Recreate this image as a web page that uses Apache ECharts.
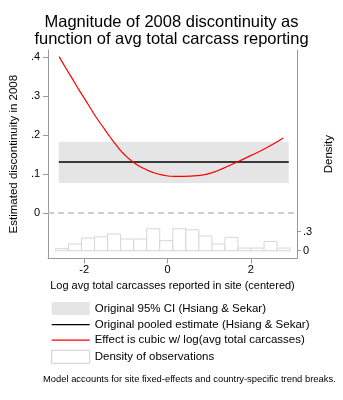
<!DOCTYPE html>
<html><head><meta charset="utf-8">
<script src="https://cdn.jsdelivr.net/npm/echarts@6/dist/echarts.min.js"></script>
<style>html,body{margin:0;padding:0;background:#fff}#c{width:343px;height:400px}</style>
</head><body><div id="c"></div>
<script>
// ---- data ----
const chartTitle = 'Magnitude of 2008 discontinuity as\nfunction of avg total carcass reporting';
const xName = 'Log avg total carcasses reported in site (centered)';
const yName = 'Estimated discontinuity in 2008';
const y2Name = 'Density';
const note = 'Model accounts for site fixed-effects and country-specific trend breaks.';
const seriesNames = ['Original 95% CI (Hsiang & Sekar)', 'Original pooled estimate (Hsiang & Sekar)', 'Effect is cubic w/ log(avg total carcasses)', 'Density of observations'];
const xTicks = [-2, 0, 2];
const yTicks = [0, 0.1, 0.2, 0.3, 0.4];
const densityTicks = [0, 0.3];
// cubic effect curve
const curveX = [-2.60, -2.45, -2.29, -2.14, -1.98, -1.83, -1.68, -1.52, -1.37, -1.22, -1.06, -0.83, -0.60, -0.37, -0.14, 0.17, 0.40, 0.71, 1.02, 1.32, 1.67, 2.01, 2.40, 2.78];
const curveY = [0.402, 0.374, 0.346, 0.319, 0.292, 0.266, 0.241, 0.217, 0.194, 0.173, 0.153, 0.131, 0.116, 0.105, 0.098, 0.094, 0.094, 0.096, 0.102, 0.114, 0.131, 0.148, 0.169, 0.193];
// original estimate and CI
const pooledEstimate = 0.131;
const ciLow = 0.077;
const ciHigh = 0.183;
const estimateRange = [-2.61, 2.91];
// histogram of observations
const binStart = -2.69;
const binWidth = 0.313;
const density = [0.032, 0.106, 0.20, 0.22, 0.264, 0.185, 0.185, 0.347, 0.158, 0.347, 0.33, 0.232, 0.106, 0.21, 0.042, 0.042, 0.147, 0.042];

// ---- build ----
const FONT = "'Liberation Sans', Arial, Helvetica, sans-serif";
const curveData = curveX.map((x, i) => [x, curveY[i]]);
const histData = density.map((d, i) => [binStart + i * binWidth, binStart + (i + 1) * binWidth, d]);
const fmt = v => { const s = String(+v.toFixed(3)); return s.replace(/^0\./, '.').replace(/^-0\./, '-.'); };
const axisGray = '#9a9a9a';

const chart = echarts.init(document.getElementById('c'), null, {renderer: 'canvas'});
chart.setOption({
  animation: false,
  backgroundColor: '#fff',
  textStyle: {fontFamily: FONT, color: '#000'},
  title: {
    text: chartTitle, left: 'center', top: 14, padding: 0,
    textStyle: {fontFamily: FONT, fontSize: 16.5, fontWeight: 'normal', color: '#000', lineHeight: 16.7}
  },
  grid: {left: 41.7, right: 42.3, top: 50, bottom: 141.7, containLabel: false},
  xAxis: {
    type: 'value', min: -2.867, max: 3.107,
    name: xName, nameLocation: 'middle', nameGap: 15,
    nameTextStyle: {fontFamily: FONT, fontSize: 11, color: '#000'},
    axisLine: {show: true, onZero: false, lineStyle: {color: axisGray, width: 1}},
    axisTick: {show: true, length: 5, customValues: xTicks, lineStyle: {color: axisGray}},
    axisLabel: {customValues: xTicks, formatter: fmt, margin: 6, fontFamily: FONT, fontSize: 11, color: '#000'},
    splitLine: {show: false}
  },
  yAxis: [{
    type: 'value', min: -0.1165, max: 0.419, position: 'left',
    name: yName, nameLocation: 'middle', nameGap: 15.5, nameRotate: 90,
    nameTextStyle: {fontFamily: FONT, fontSize: 11.5, color: '#000'},
    axisLine: {show: true, onZero: false, lineStyle: {color: axisGray, width: 1}},
    axisTick: {show: true, length: 5, customValues: yTicks, lineStyle: {color: axisGray}},
    axisLabel: {customValues: yTicks, formatter: fmt, margin: 8, fontFamily: FONT, fontSize: 11, color: '#000'},
    splitLine: {show: false}
  }, {
    type: 'value', min: -0.12, max: 3.17, position: 'right',
    name: y2Name, nameLocation: 'middle', nameGap: 22, nameRotate: 90,
    nameTextStyle: {fontFamily: FONT, fontSize: 11.5, color: '#000'},
    axisLine: {show: true, onZero: false, lineStyle: {color: axisGray, width: 1}},
    axisTick: {show: true, length: 4, customValues: densityTicks, lineStyle: {color: axisGray}},
    axisLabel: {customValues: densityTicks, formatter: fmt, margin: 6, fontFamily: FONT, fontSize: 11, color: '#000'},
    splitLine: {show: false}
  }],
  legend: {
    orient: 'vertical', left: 51, top: 302, padding: 0,
    itemWidth: 38, itemHeight: 13, itemGap: 3.6,
    textStyle: {fontFamily: FONT, fontSize: 11.5, color: '#000'},
    data: [
      {name: seriesNames[0], icon: 'rect', itemStyle: {color: '#e5e5e5'}},
      {name: seriesNames[1], itemStyle: {opacity: 0}, lineStyle: {color: '#000', width: 1.4, opacity: 1}},
      {name: seriesNames[2], itemStyle: {opacity: 0}, lineStyle: {color: '#ff0000', width: 1.3, opacity: 1}},
      {name: seriesNames[3], icon: 'rect', itemStyle: {color: '#fff', borderColor: '#cfcfcf', borderWidth: 1}}
    ]
  },
  graphic: [{
    type: 'text', left: 43, top: 375,
    style: {text: note, fontFamily: FONT, fontSize: 9.4, fill: '#000'}
  }],
  series: [{
    name: seriesNames[0], type: 'custom', xAxisIndex: 0, yAxisIndex: 0, z: 1,
    data: [[estimateRange[0], estimateRange[1], ciLow, ciHigh]],
    encode: {x: [0, 1], y: [2, 3]},
    itemStyle: {color: '#e5e5e5'},
    renderItem: (params, api) => {
      const p0 = api.coord([api.value(0), api.value(3)]);
      const p1 = api.coord([api.value(1), api.value(2)]);
      return {type: 'rect', shape: {x: p0[0], y: p0[1], width: p1[0] - p0[0], height: p1[1] - p0[1]}, style: {fill: '#e5e5e5'}};
    },
    markLine: {
      silent: true, symbol: 'none', label: {show: false},
      lineStyle: {color: '#bdbdbd', type: [6, 4], width: 1.5},
      data: [{yAxis: 0}]
    }
  }, {
    name: seriesNames[1], type: 'line', z: 3, symbol: 'none',
    data: [[estimateRange[0], pooledEstimate], [estimateRange[1], pooledEstimate]],
    itemStyle: {color: '#000'},
    lineStyle: {color: '#000', width: 1.4}
  }, {
    name: seriesNames[2], type: 'line', z: 4, symbol: 'none', smooth: 0.5,
    data: curveData,
    itemStyle: {color: '#ff0000'},
    lineStyle: {color: '#ff0000', width: 1.2}
  }, {
    name: seriesNames[3], type: 'custom', xAxisIndex: 0, yAxisIndex: 1, z: 2,
    data: histData,
    encode: {x: [0, 1], y: 2},
    itemStyle: {color: '#fff', borderColor: '#cfcfcf'},
    renderItem: (params, api) => {
      const p0 = api.coord([api.value(0), api.value(2)]);
      const p1 = api.coord([api.value(1), 0]);
      return {type: 'rect', shape: {x: p0[0], y: p0[1], width: p1[0] - p0[0], height: p1[1] - p0[1]},
        style: {fill: '#fff', stroke: '#d6d6d6', lineWidth: 1}};
    }
  }]
});
</script></body></html>
